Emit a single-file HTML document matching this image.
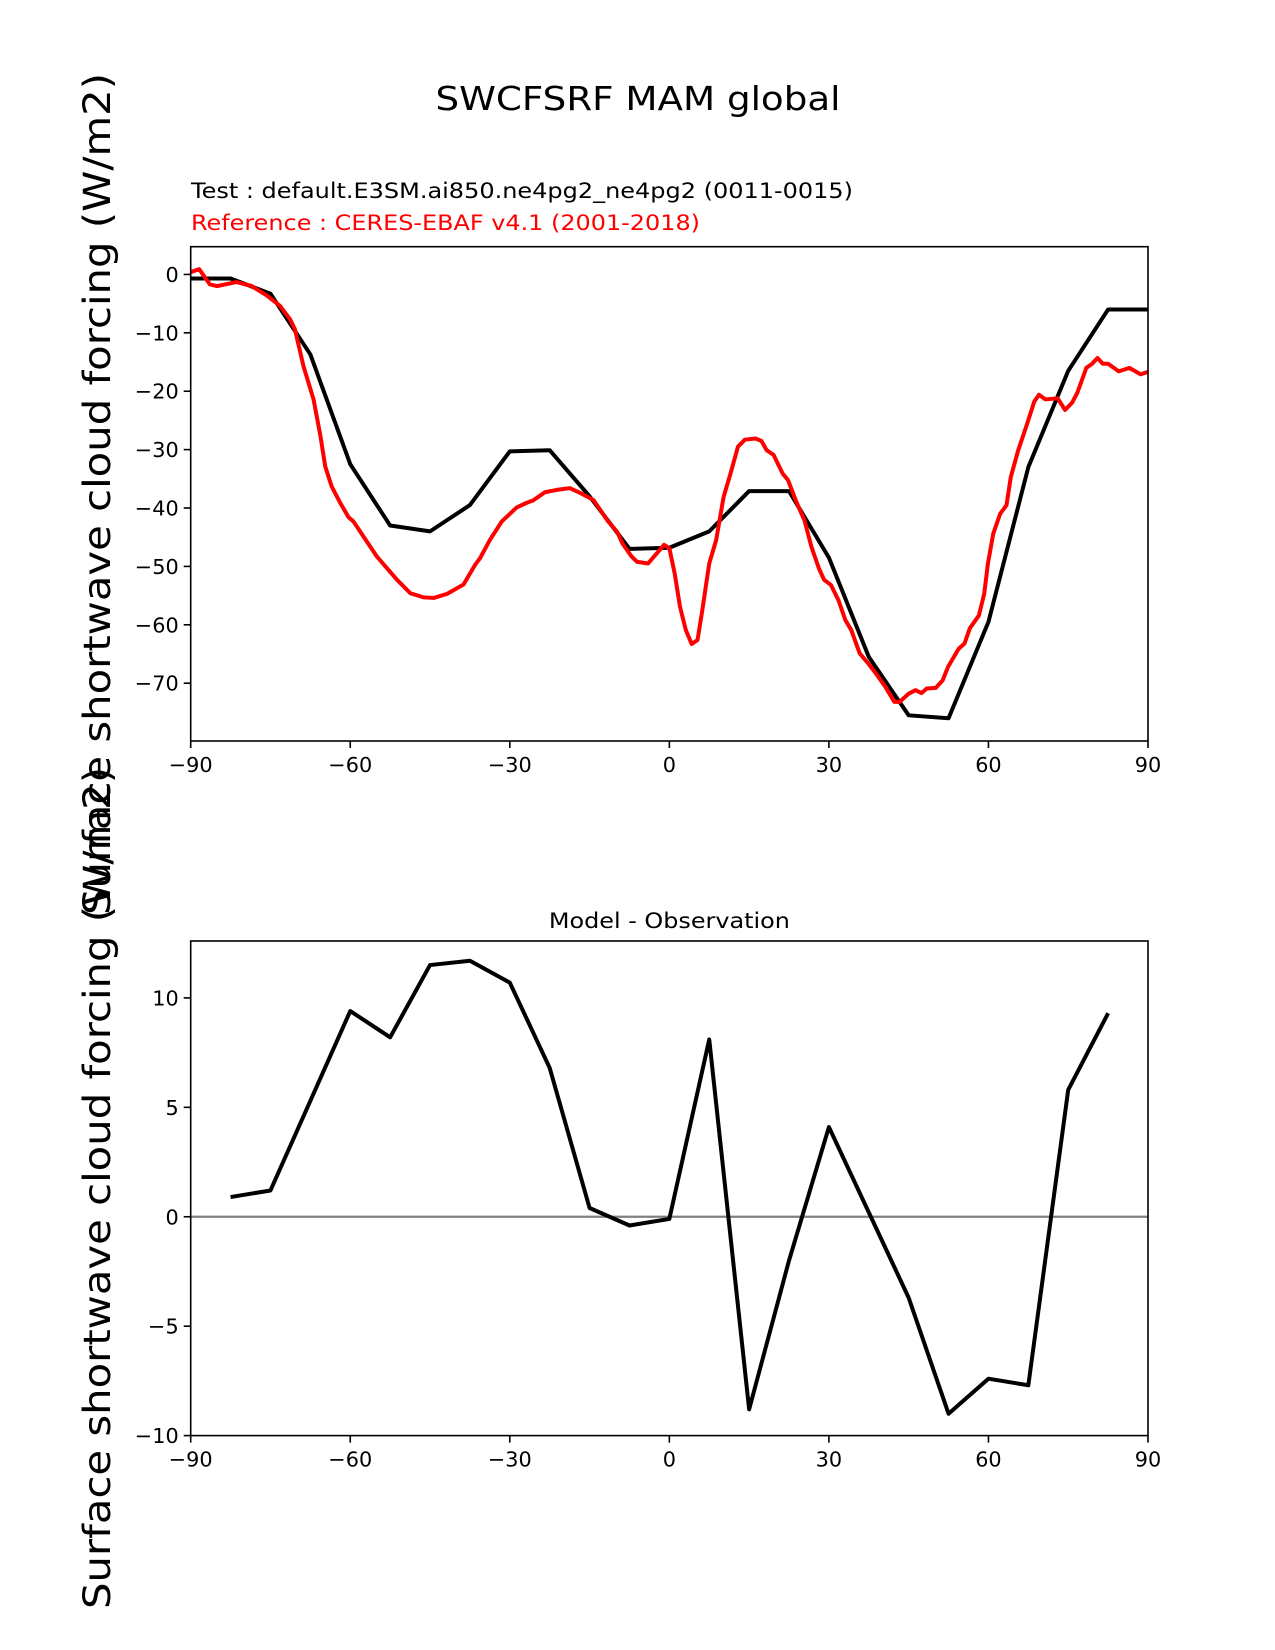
<!DOCTYPE html>
<html><head><meta charset="utf-8"><style>
html,body{margin:0;padding:0;background:#fff;}
svg{display:block;font-family:"DejaVu Sans","Liberation Sans",sans-serif;}
</style></head><body>
<svg id="fig" width="1275" height="1650" viewBox="0 0 1275 1650" xmlns="http://www.w3.org/2000/svg">
<rect width="1275" height="1650" fill="#fff"/>
<text x="638" y="110" font-size="33" text-anchor="middle" textLength="405" lengthAdjust="spacingAndGlyphs">SWCFSRF MAM global</text>
<text x="191" y="198" font-size="21" textLength="662" lengthAdjust="spacingAndGlyphs">Test : default.E3SM.ai850.ne4pg2_ne4pg2 (0011-0015)</text>
<text x="191" y="230" font-size="21" fill="#ff0000" textLength="509" lengthAdjust="spacingAndGlyphs">Reference : CERES-EBAF v4.1 (2001-2018)</text>
<text x="669.4" y="928" font-size="21" text-anchor="middle" textLength="241" lengthAdjust="spacingAndGlyphs">Model - Observation</text>
<text transform="translate(110,494) rotate(-90)" font-size="37" text-anchor="middle" textLength="842" lengthAdjust="spacingAndGlyphs">Surface shortwave cloud forcing (W/m2)</text>
<text transform="translate(110,1188) rotate(-90)" font-size="37" text-anchor="middle" textLength="842" lengthAdjust="spacingAndGlyphs">Surface shortwave cloud forcing (W/m2)</text>
<g id="top"></g>
<g id="bot"></g>
</svg>
<script>
const lats = [-90,-82.5,-75,-67.5,-60,-52.5,-45,-37.5,-30,-22.5,-15,-7.5,0,7.5,15,22.5,30,37.5,45,52.5,60,67.5,75,82.5,90];
const testVals = [-0.7,-0.7,-3.3,-13.7,-32.5,-43,-44,-39.5,-30.3,-30.1,-38,-47,-46.8,-44,-37.1,-37.1,-48.5,-65.5,-75.5,-76,-59.5,-33,-16.5,-6,-6];
const refLats = [-90,-88.4,-86.4,-85.1,-81.4,-78.5,-75.7,-73.2,-71.3,-70.4,-68.8,-66.9,-65.6,-64.7,-63.5,-61.9,-60.3,-59.4,-57.5,-55,-53.1,-51.2,-48.7,-46.2,-44.3,-41.8,-38.7,-36.5,-35.6,-33.7,-31.5,-28.7,-26.8,-25.6,-23.4,-21.2,-18.7,-16.8,-14.3,-11.5,-9.8,-8.8,-7.1,-6.1,-4.0,-2.4,-1.0,0,1.0,2.0,3.1,4.2,5.3,6.2,7.5,8.8,10.2,11.5,12.9,14.2,16.2,17.3,18.3,19.6,21.3,22.3,24,25.4,26.7,28.1,29.1,30.4,31.8,33.1,34.2,35.8,37.2,38.9,40.6,42.3,43.3,45,46.3,47.4,48.4,50.1,51.4,52.4,54.4,55.5,56.5,58.2,59.2,59.9,60.9,62.2,63.4,64.2,65.6,67.3,68.6,69.5,70.7,72,73,74.4,75.7,76.7,78.4,79.5,80.5,81.5,82.5,84.5,86.5,88.6,90];
const refVals = [0.4,0.9,-1.7,-2.0,-1.3,-2.0,-3.6,-5.4,-7.7,-9.4,-15.7,-21.4,-27.7,-32.9,-36.3,-39.1,-41.6,-42.3,-44.9,-48.3,-50.3,-52.3,-54.6,-55.3,-55.4,-54.7,-53.1,-49.7,-48.6,-45.4,-42.3,-39.9,-39.1,-38.7,-37.3,-36.9,-36.6,-37.4,-38.6,-42.3,-44.1,-46.1,-48.3,-49.2,-49.5,-47.8,-46.3,-46.9,-51.2,-56.9,-60.9,-63.3,-62.6,-57.5,-49.5,-45.5,-38.1,-34.1,-29.5,-28.3,-28.1,-28.5,-30.1,-30.9,-34.1,-35.2,-39.2,-42.1,-46.6,-50.3,-52.3,-53.2,-55.8,-59.2,-60.9,-64.9,-66.4,-68.4,-70.6,-73.2,-73.2,-71.8,-71.2,-71.7,-70.9,-70.8,-69.5,-67.2,-64.1,-63.2,-60.6,-58.4,-54.7,-49.5,-44.4,-41,-39.5,-34.7,-30.1,-25.5,-21.8,-20.6,-21.4,-21.3,-21.2,-23.2,-22,-20.3,-16,-15.3,-14.3,-15.3,-15.3,-16.6,-16,-17.1,-16.7];
const diffLats = [-82.5,-75,-67.5,-60,-52.5,-45,-37.5,-30,-22.5,-15,-7.5,0,7.5,15,22.5,30,37.5,45,52.5,60,67.5,75,82.5];
const diffVals = [0.9,1.2,5.3,9.4,8.2,11.5,11.7,10.7,6.8,0.4,-0.4,-0.1,8.1,-8.8,-2,4.1,0.2,-3.7,-9,-7.4,-7.7,5.8,9.3];
const xTicks = [-90,-60,-30,0,30,60,90];
const topYTicks = [0,-10,-20,-30,-40,-50,-60,-70];
const botYTicks = [10,5,0,-5,-10];

const NS='http://www.w3.org/2000/svg';
const L=190.7,R=1148;
function mk(tag,attrs,parent,txt){const e=document.createElementNS(NS,tag);for(const k in attrs)e.setAttribute(k,attrs[k]);if(txt!==undefined)e.textContent=txt;parent.appendChild(e);return e;}
const xs=v=>L+(v+90)/180*(R-L);
function fmt(v){return v<0?'\u2212'+Math.abs(v):String(v);}
function panel(g,T,B,ymin,ymax,yTicks,name){
  const ys=v=>B-(v-ymin)/(ymax-ymin)*(B-T);
  xTicks.forEach(t=>{
    const l=mk('line',{x1:xs(t),x2:xs(t),y1:B,y2:B+7,stroke:'#000','stroke-width':1.6},g);
    
    
    const tx=mk('text',{x:xs(t),y:B+31,'font-size':20.8,'text-anchor':'middle'},g,fmt(t));
    
    
  });
  yTicks.forEach(t=>{
    const l=mk('line',{x1:L-7,x2:L,y1:ys(t),y2:ys(t),stroke:'#000','stroke-width':1.6},g);
    
    
    const tx=mk('text',{x:L-12,y:ys(t)+7.5,'font-size':20.8,'text-anchor':'end'},g,fmt(t));
    
    
  });
  return ys;
}
function line(g,xa,ya,ys,color,name){
  const d=xa.map((x,i)=>(i?'L':'M')+xs(x).toFixed(2)+' '+ys(ya[i]).toFixed(2)).join(' ');
  const p=mk('path',{d:d,fill:'none',stroke:color,'stroke-width':4,'stroke-linejoin':'round'},g);
  
  
}
function frame(g,T,B,name){
  const r=mk('rect',{x:L,y:T,width:R-L,height:B-T,fill:'none',stroke:'#000','stroke-width':1.6},g);
  
  
}
const gt=document.getElementById('top');


const ysT=panel(gt,246.7,741,-79.9,4.75,topYTicks,'top');
line(gt,lats,testVals,ysT,'#000','test-line');
line(gt,refLats,refVals,ysT,'#ff0000','reference-line');
frame(gt,246.7,741,'top-axes-frame');

const gb=document.getElementById('bot');


const ysB=panel(gb,941,1435.6,-10,12.6,botYTicks,'bottom');
const z=mk('line',{x1:L,x2:R,y1:ysB(0),y2:ysB(0),stroke:'#808080','stroke-width':2.2},gb);


line(gb,diffLats,diffVals,ysB,'#000','difference-line');
frame(gb,941,1435.6,'bottom-axes-frame');
</script>
</body></html>
